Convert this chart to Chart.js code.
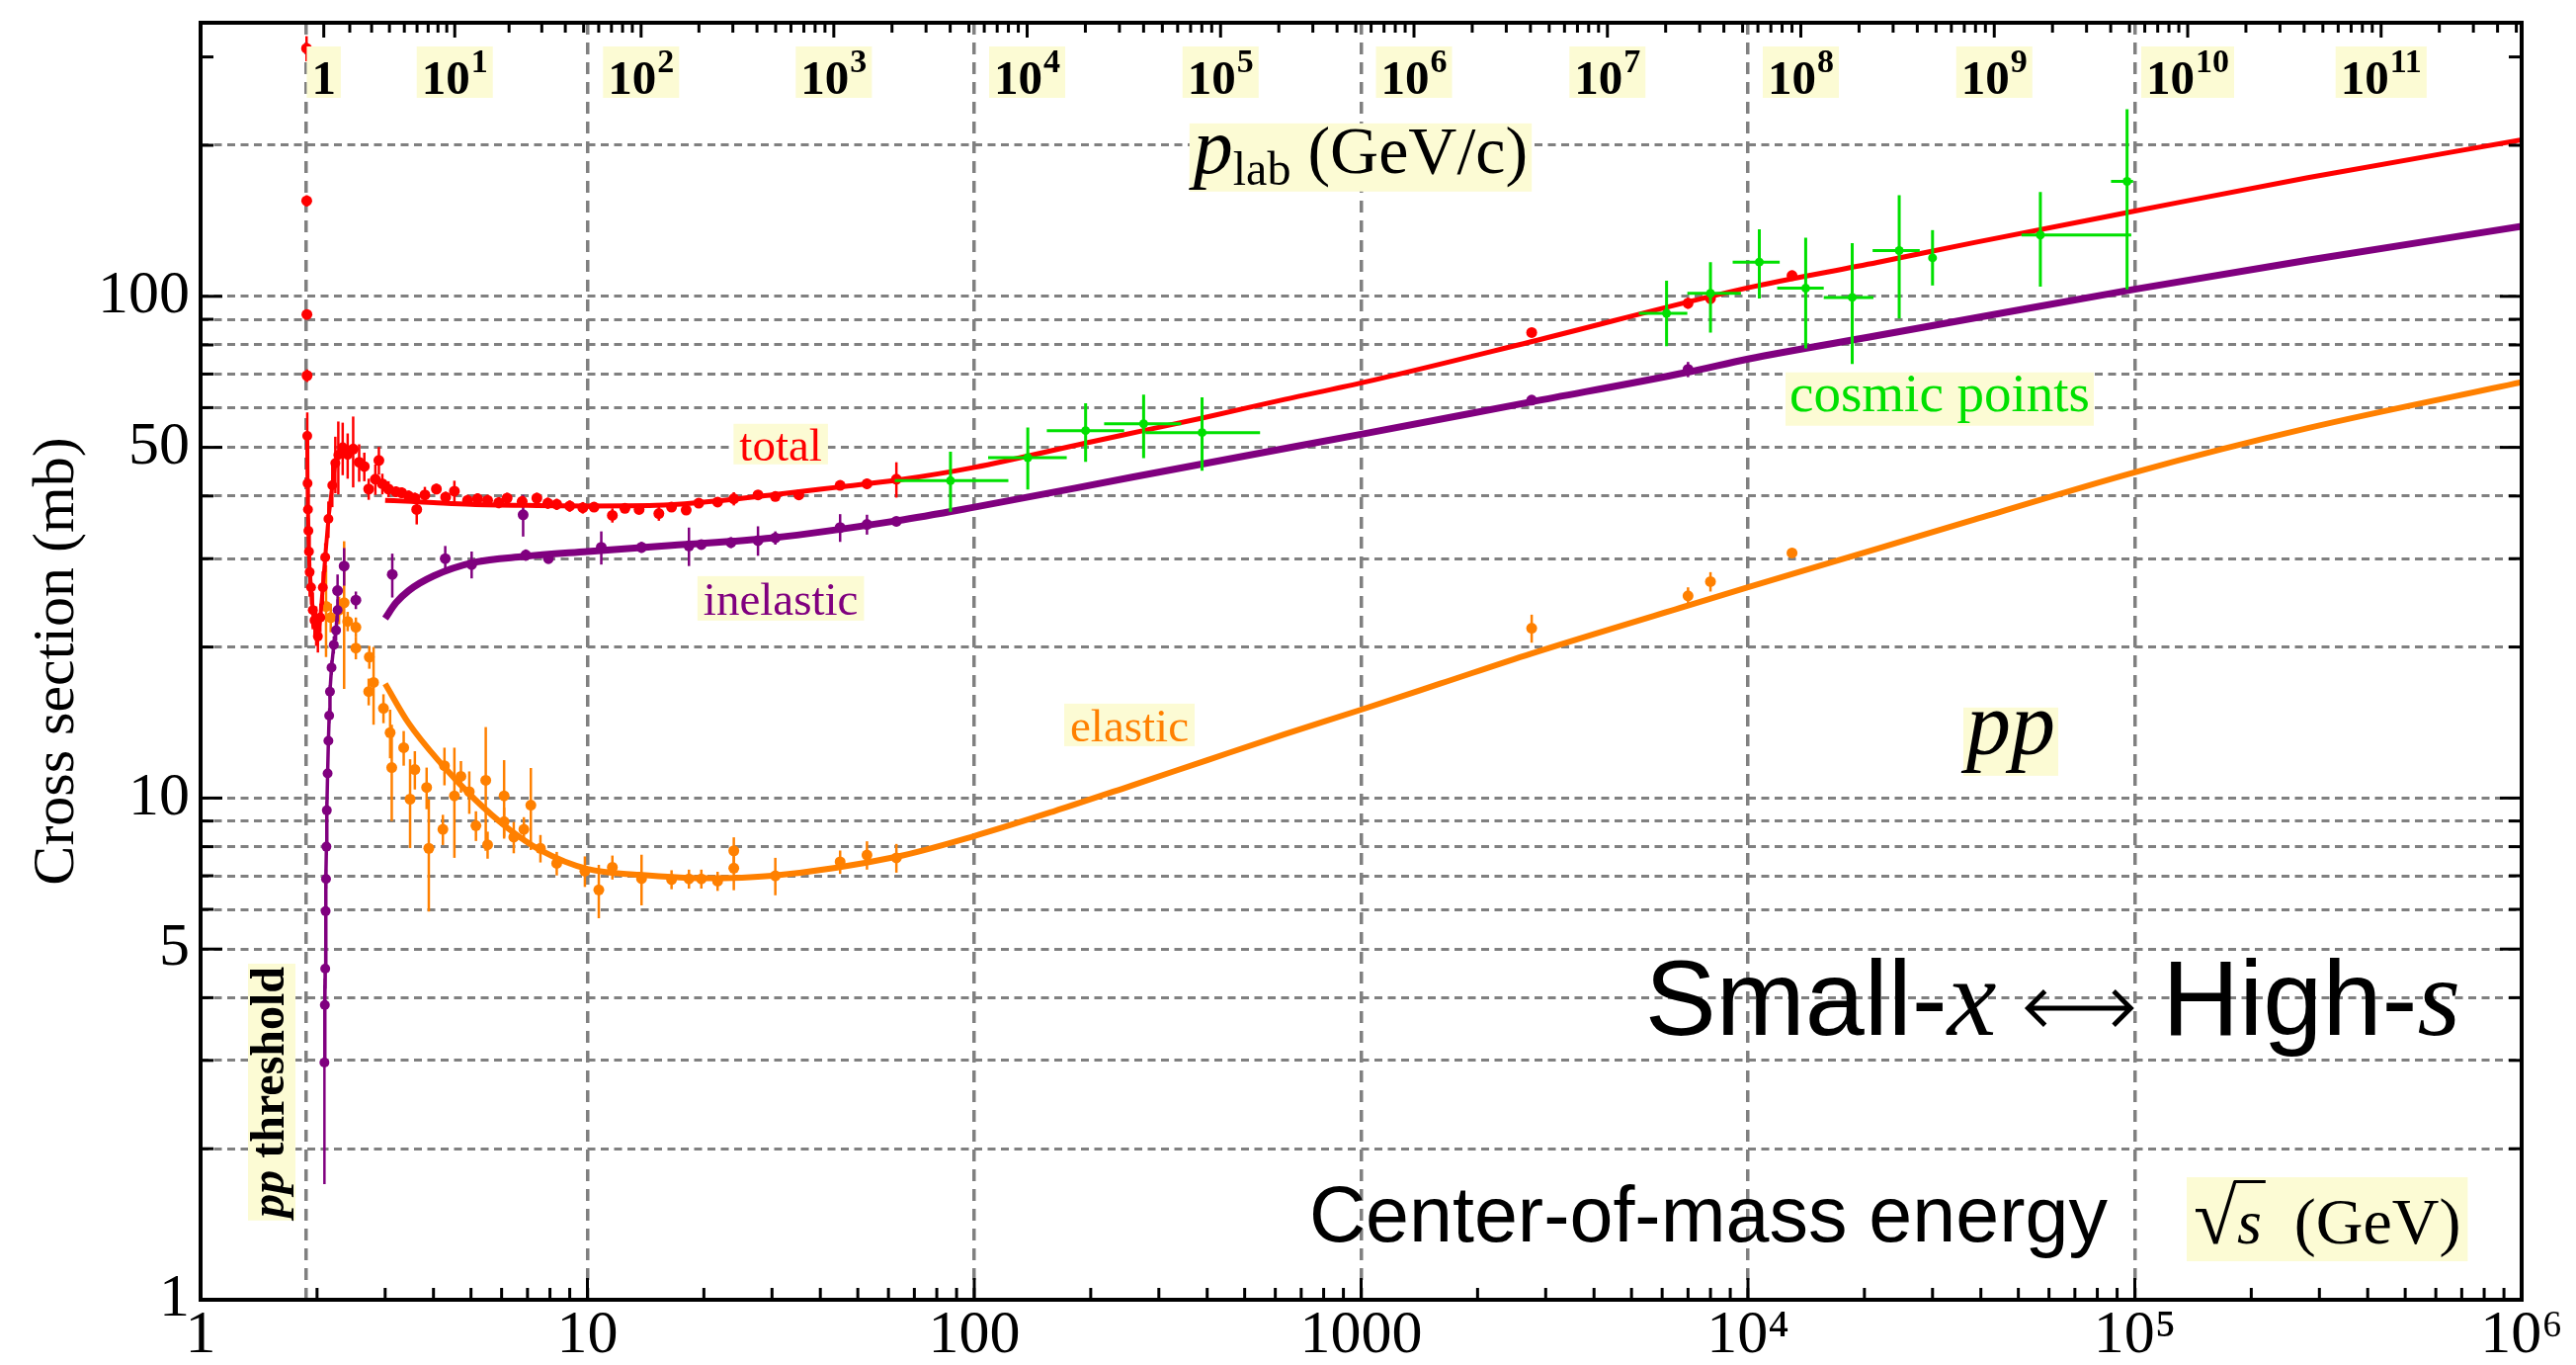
<!DOCTYPE html>
<html>
<head>
<meta charset="utf-8">
<title>pp cross sections</title>
<script src="https://cdn.jsdelivr.net/npm/chart.js@4.4.1/dist/chart.umd.min.js"></script>
<style>
  html, body { margin: 0; padding: 0; background: #fff; }
  #wrap { width: 2607px; height: 1381px; }
</style>
</head>
<body>
<div id="wrap"><canvas id="xsec" width="2607" height="1381"></canvas></div>
<script>
// ── Data: sqrt(s) in GeV, cross sections in mb ─────────────────

// fitted curves
const totFitX  = [3.0, 3.5, 4.0, 5.0, 7.0, 10, 15, 20, 30, 45, 63, 100, 194, 274, 388, 634, 1000, 2750, 1e4, 21600, 38500, 1e5, 2.8e5, 1e6];
const totFitY  = [39.2, 39.0, 38.8, 38.5, 38.3, 38.2, 38.3, 38.9, 40.2, 41.7, 43.0, 45.6, 51.0, 54.0, 57.2, 62.3, 67.2, 81.2, 104.0, 116.8, 128.0, 147.9, 172.4, 205];
const inelFitX = [3.0, 3.2, 3.45, 4.0, 5.1, 6.85, 10, 16.5, 30, 63, 100, 256, 564, 1000, 2750, 7000, 1e4, 21600, 38500, 1e5, 2.8e5, 1e6];
const inelFitY = [22.8, 24.5, 25.9, 27.7, 29.5, 30.3, 31.0, 31.9, 33.0, 35.7, 38.0, 43.6, 48.9, 53.1, 61.6, 70.6, 75.0, 83.5, 90.5, 103.3, 118.0, 137.9];
const elasFitX = [3.0, 3.45, 4.19, 5.11, 6.2, 7.56, 10, 13.6, 20, 30, 63, 100, 160, 256, 400, 634, 1000, 1600, 2750, 7000, 1e4, 21600, 38500, 1e5, 2.8e5, 1e6];
const elasFitY = [16.9, 14.1, 11.7, 9.95, 8.73, 7.87, 7.22, 7.03, 6.92, 7.0, 7.64, 8.4, 9.4, 10.6, 11.9, 13.4, 15.0, 16.9, 19.4, 24.2, 26.3, 31.4, 35.9, 44.6, 54.6, 67.4];

// total: spike right at threshold
const totThrX   = [1.879, 1.881, 1.883, 1.885];
const totThrY   = [312, 155, 92, 69.5];
const totThrErr = [18, 4, 2, 2];

// total: dip and resonance peak (joined)
const totLowX   = [1.887, 1.890, 1.895, 1.900, 1.906, 1.914, 1.930, 1.950, 1.970, 1.990, 2.010, 2.040, 2.070, 2.100, 2.140, 2.190, 2.230, 2.270, 2.330, 2.400];
const totLowY   = [52.7, 42.4, 37.6, 34.1, 31.0, 28.2, 26.3, 23.7, 22.6, 22.1, 21.0, 22.9, 26.3, 30.2, 36.0, 42.0, 46.5, 48.3, 50.0, 48.3];
const totLowErr = [6, 3, 2, 2, 2, 3, 2, 2, 1.5, 2, 1.5, 1.5, 2, 2, 3, 4, 6, 8, 6, 5];

// total: measurements
const totX   = [2.48, 2.57, 2.65, 2.72, 2.83, 2.89, 2.95, 3.06, 3.20, 3.31, 3.45, 3.58, 3.62, 3.80, 4.07, 4.30, 4.53, 4.90, 5.20, 5.52, 5.90, 6.20, 6.78, 7.40, 7.90, 8.33, 9.00, 9.73, 10.4, 11.6, 12.5, 13.6, 15.3, 16.5, 18.0, 19.4, 21.7, 23.9, 27.6, 30.6, 35.2, 45.0, 52.8, 62.9, 2760, 7000, 8000, 13000];
const totY   = [49.6, 46.7, 45.8, 41.3, 43.2, 47.1, 42.3, 41.3, 40.8, 40.6, 40.0, 39.6, 37.6, 40.2, 41.3, 39.8, 40.9, 39.2, 39.5, 39.2, 38.8, 39.6, 39.0, 39.6, 38.7, 38.5, 38.2, 37.9, 38.0, 36.6, 37.8, 37.6, 36.9, 38.0, 37.5, 38.7, 38.9, 39.5, 40.2, 39.9, 40.2, 42.0, 42.3, 43.2, 84.7, 96.9, 99.0, 110.0];
const totErr = [8, 4, 3, 2, 3, 3, 2, 1.5, 1, 1, 1, 1, 2.5, 1.5, 1, 1, 2, 1, 1, 1, 1, 1, 1, 1, 1, 1, 1, 1, 0.8, 1.2, 0.8, 0.8, 1.2, 0.6, 0.6, 0.6, 0.6, 1.2, 0.5, 0.5, 0.6, 0.8, 1.0, 3.5, 1.5, 2.5, 2.5, 2.5];

// inelastic: rise from threshold (joined)
const inelThrX   = [2.090, 2.095, 2.100, 2.105, 2.110, 2.115, 2.120, 2.130, 2.140, 2.150, 2.160, 2.180, 2.210, 2.240, 2.260];
const inelThrY   = [2.97, 3.87, 4.57, 5.95, 6.9, 8.0, 9.45, 11.2, 13.0, 14.6, 16.3, 18.2, 20.2, 21.6, 23.7];
const inelThrErr = [1.27, 0.5, 0.4, 0.3, 0.3, 0.3, 0.4, 0.4, 0.4, 0.5, 0.5, 0.6, 0.8, 1.0, 1.2];

// inelastic: measurements
const inelX   = [2.26, 2.35, 2.52, 3.13, 4.29, 5.02, 6.82, 6.93, 7.93, 10.86, 13.8, 18.3, 19.7, 23.5, 27.6, 30.6, 45.0, 52.8, 62.9, 2760, 7000];
const inelY   = [25.9, 29.0, 24.8, 27.9, 30.0, 29.2, 36.7, 30.5, 30.0, 31.6, 31.6, 31.8, 32.0, 32.3, 32.6, 33.0, 34.6, 35.1, 35.6, 62.1, 71.5];
const inelErr = [2.0, 2.5, 1.0, 2.8, 1.8, 1.8, 3.5, 0.8, 0.6, 2.4, 0.8, 2.8, 0.6, 0.8, 2.2, 1.0, 2.2, 1.6, 0.6, 0.8, 2.5];

// elastic: measurements
const elasX   = [2.11, 2.17, 2.28, 2.35, 2.40, 2.52, 2.52, 2.72, 2.73, 2.80, 2.97, 3.09, 3.12, 3.35, 3.48, 3.58, 3.84, 3.89, 4.23, 4.27, 4.53, 4.71, 4.95, 5.15, 5.46, 5.52, 6.09, 6.09, 6.45, 6.85, 7.14, 7.56, 8.33, 9.85, 10.7, 11.6, 13.8, 16.5, 18.3, 19.7, 21.7, 23.9, 23.9, 30.6, 45.0, 52.8, 62.9, 2760, 7000, 8000, 13000];
const elasY   = [24.1, 22.9, 23.7, 24.5, 22.5, 21.9, 19.9, 16.3, 19.1, 17.0, 15.1, 13.5, 11.5, 12.6, 9.95, 11.4, 10.5, 7.94, 8.66, 11.6, 10.1, 11.05, 10.3, 8.81, 10.85, 8.07, 10.1, 8.97, 8.36, 8.66, 9.68, 7.94, 7.41, 7.15, 6.56, 7.28, 6.91, 6.88, 6.90, 6.90, 6.83, 7.85, 7.25, 7.0, 7.46, 7.7, 7.6, 21.8, 25.3, 27.0, 30.8];
const elasErr = [5, 1.5, 1.5, 8, 1, 1, 1, 1, 1, 3, 1, 1.5, 2.5, 1, 2, 1, 1, 2, 0.6, 1, 2.5, 0.8, 1, 0.6, 3, 0.5, 1.8, 0.6, 0.6, 0.5, 1.8, 0.5, 0.4, 0.5, 0.8, 0.4, 0.8, 0.3, 0.3, 0.3, 0.3, 0.5, 0.7, 0.6, 0.4, 0.5, 0.5, 1.4, 1.0, 1.2, 0.5];

// cosmic-ray points (total), with energy bins
const cosmicX   = [86.8, 137.5, 194, 274, 388, 6160, 8000, 10700, 14100, 18600, 24600, 30000, 57000, 95500];
const cosmicY   = [42.9, 47.7, 54.0, 55.7, 53.5, 92.5, 101.4, 117, 103.8, 99.5, 123.4, 119.3, 132.5, 169.5];
const cosmicYLo = [37.2, 41.2, 46.8, 47.6, 44.9, 79.5, 84.7, 99, 78.7, 73.3, 90.3, 105.1, 104.5, 103.3];
const cosmicYHi = [49.0, 54.8, 61.2, 63.7, 62.9, 107.4, 117, 136, 130.8, 127.6, 159, 135.5, 161.5, 236];
const cosmicXLo = [62.3, 108.6, 154, 216.6, 277, 5224, 6970, 9130, 11900, 15700, 21000, 30000, 50950, 86800];
const cosmicXHi = [122.5, 173.4, 244, 342.8, 548, 6970, 9590, 12080, 15700, 21100, 27800, 30000, 97900, 99000];

// axes
const xGridValues = [1, 1.877, 10, 100, 1000, 1e4, 1e5, 1e6];
const xTickText   = { 1: '1', 10: '10', 100: '100', 1000: '1000', 10000: '10⁴', 100000: '10⁵', 1000000: '10⁶' };
const yGridValues = [1, 2, 3, 4, 5, 6, 7, 8, 9, 10, 20, 30, 40, 50, 60, 70, 80, 90, 100, 200, 300];
const yTickText   = { 1: '1', 5: '5', 10: '10', 50: '50', 100: '100' };
const plabExp     = [0, 1, 2, 3, 4, 5, 6, 7, 8, 9, 10, 11];

// ── Style ─────────────────────────────────────────────────────
const SERIF  = '"Liberation Serif", "Times New Roman", serif';
const SANS   = '"Liberation Sans", Arial, Helvetica, sans-serif';
const RED    = '#ff0000';
const PURPLE = '#80007f';
const ORANGE = '#ff8000';
const GREEN  = '#00e000';
const PALE   = '#fcfbd4';
const GRID   = '#808080';

// fixed-target kinematics: beam momentum (GeV/c) -> sqrt(s) (GeV)
const M_P = 0.938272;
const sqrtS = p => Math.sqrt(2 * M_P * M_P + 2 * M_P * Math.sqrt(p * p + M_P * M_P));

const pts = (xs, ys) => xs.map((x, i) => ({ x, y: ys[i] }));

function fitSet(xs, ys, color, width) {
  return { data: pts(xs, ys), showLine: true, borderColor: color, borderWidth: width,
           pointRadius: 0, cubicInterpolationMode: 'monotone' };
}
function dotSet(xs, ys, err, color, r, line) {
  return { data: pts(xs, ys), errY: err, showLine: !!line, borderColor: color, borderWidth: line || 0,
           backgroundColor: color, pointRadius: r, pointBorderWidth: 0 };
}

// ── Error bars, drawn just under each dataset ─────────────────
const errorBars = {
  id: 'errorBars',
  beforeDatasetDraw(chart, args) {
    const ds = chart.data.datasets[args.index];
    if (!ds.errY && !ds.yLo) return;
    const { ctx, chartArea: a, scales: { x, y } } = chart;
    ctx.save();
    ctx.beginPath();
    ctx.rect(a.left, a.top, a.width, a.height);
    ctx.clip();
    ctx.strokeStyle = ds.backgroundColor;
    ctx.lineWidth = ds.errWidth || 2.5;
    ds.data.forEach((p, i) => {
      const px = x.getPixelForValue(p.x);
      const py = y.getPixelForValue(p.y);
      const lo = ds.yLo ? ds.yLo[i] : p.y - ds.errY[i];
      const hi = ds.yHi ? ds.yHi[i] : p.y + ds.errY[i];
      ctx.beginPath();
      ctx.moveTo(px, y.getPixelForValue(Math.max(lo, 1.01)));
      ctx.lineTo(px, y.getPixelForValue(hi));
      if (ds.xLo && ds.xLo[i] !== ds.xHi[i]) {
        ctx.moveTo(x.getPixelForValue(ds.xLo[i]), py);
        ctx.lineTo(x.getPixelForValue(ds.xHi[i]), py);
      }
      ctx.stroke();
    });
    ctx.restore();
  }
};

// ── Inner tick marks, p_lab axis and frame ────────────────────
const axisDecor = {
  id: 'axisDecor',
  afterDraw(chart) {
    const { ctx, chartArea: a, scales: { x, y } } = chart;
    const seg = (x1, y1, x2, y2) => { ctx.beginPath(); ctx.moveTo(x1, y1); ctx.lineTo(x2, y2); ctx.stroke(); };
    ctx.save();
    ctx.strokeStyle = '#000';
    ctx.lineWidth = 3;

    // left and right ticks
    yGridValues.forEach(v => {
      if (v <= 1) return;
      const py = y.getPixelForValue(v);
      const len = yTickText[v] ? 22 : 13;
      seg(a.left, py, a.left + len, py);
      seg(a.right, py, a.right - len, py);
    });

    // bottom ticks
    for (let n = 0; n < 6; n++) {
      for (let k = 1; k <= 9; k++) {
        const v = k * 10 ** n;
        if (v <= 1) continue;
        const px = x.getPixelForValue(v);
        seg(px, a.bottom, px, a.bottom - (k === 1 ? 22 : 12));
      }
    }

    // top ticks in beam momentum
    plabExp.forEach(n => {
      for (let k = 1; k <= 9; k++) {
        const s = sqrtS(k * 10 ** n);
        if (s >= 1e6) break;
        const px = x.getPixelForValue(s);
        seg(px, a.top, px, a.top + (k === 1 ? 15 : 10));
      }
    });

    // top tick labels: 1, 10^1 ... 10^11
    ctx.textBaseline = 'alphabetic';
    ctx.textAlign = 'left';
    plabExp.forEach(n => {
      const px = x.getPixelForValue(sqrtS(10 ** n));
      const main = n === 0 ? '1' : '10';
      const sup = n === 0 ? '' : String(n);
      ctx.font = `bold 49px ${SERIF}`;
      const w1 = ctx.measureText(main).width;
      ctx.font = `bold 34px ${SERIF}`;
      const w2 = sup ? ctx.measureText(sup).width + 1 : 0;
      const left = px - (w1 + w2) / 2;
      ctx.fillStyle = PALE;
      ctx.fillRect(left - 5, a.top + 24, w1 + w2 + 10, 52);
      ctx.fillStyle = '#000';
      ctx.font = `bold 49px ${SERIF}`;
      ctx.fillText(main, left, a.top + 72);
      if (sup) {
        ctx.font = `bold 34px ${SERIF}`;
        ctx.fillText(sup, left + w1 + 1, a.top + 50);
      }
    });

    // frame
    ctx.lineWidth = 4;
    ctx.strokeRect(a.left, a.top, a.width, a.height);
    ctx.restore();
  }
};

// ── Text labels inside the plot ───────────────────────────────
// parts: [text, font, dy, mark]; mark 'arrow' draws a double arrow, 'bar' an overbar
const notes = [
  { at: [31.6, 47.1],   align: 'center', color: RED,    box: [6, 4], parts: [['total', `47px ${SERIF}`]] },
  { at: [31.6, 23.2],   align: 'center', color: PURPLE, box: [6, 6], parts: [['inelastic', `47px ${SERIF}`]] },
  { at: [251.8, 12.98], align: 'center', color: ORANGE, box: [6, 5], parts: [['elastic', `47px ${SERIF}`]] },
  { at: [31300, 59.1],  align: 'center', color: GREEN,  box: [4, 3], parts: [['cosmic points', `55px ${SERIF}`]] },
  { at: [997, 176.3],   align: 'center', color: '#000', box: [4, 2],
    parts: [['p', `italic 80px ${SERIF}`], ['lab', `48px ${SERIF}`, 12], [' (GeV/c)', `68px ${SERIF}`]] },
  { at: [47800, 12.24], align: 'center', color: '#000', box: [3, 3], parts: [['pp', `italic 90px ${SERIF}`]] },
  { at: [694600, 3.373], align: 'right', color: '#000',
    parts: [['Small-', `108px ${SANS}`], ['x', `italic 112px ${SERIF}`], [' ', `108px ${SANS}`],
            ['\u2003', `108px ${SANS}`, 0, 'arrow'], [' ', `108px ${SANS}`],
            ['High-', `108px ${SANS}`], ['s', `italic 112px ${SERIF}`]] },
  { at: [734.5, 1.307], align: 'left', color: '#000', parts: [['Center-of-mass energy', `79px ${SANS}`]] },
  { at: [141900, 1.295], align: 'left', color: '#000', box: [7, 3],
    parts: [['√', `80px ${SERIF}`], ['s', `italic 64px ${SERIF}`, 0, 'bar'], ['  (GeV)', `66px ${SERIF}`]] },
  { at: [1.639, 2.594], align: 'center', color: '#000', box: [3, 2], rotate: true,
    parts: [['pp', `bold italic 48px ${SERIF}`], [' threshold', `bold 48px ${SERIF}`]] }
];

const textNotes = {
  id: 'textNotes',
  afterDatasetsDraw(chart) {
    const { ctx, scales: { x, y } } = chart;
    ctx.save();
    ctx.textBaseline = 'alphabetic';
    ctx.textAlign = 'left';
    notes.forEach(nt => {
      const px = x.getPixelForValue(nt.at[0]);
      const py = y.getPixelForValue(nt.at[1]);
      let width = 0, asc = 0, desc = 0;
      nt.parts.forEach(([t, font, dy = 0]) => {
        ctx.font = font;
        const m = ctx.measureText(t);
        width += m.width;
        asc = Math.max(asc, m.actualBoundingBoxAscent - dy);
        desc = Math.max(desc, m.actualBoundingBoxDescent + dy);
      });
      ctx.save();
      ctx.translate(px, py);
      if (nt.rotate) ctx.rotate(-Math.PI / 2);
      let x0 = nt.align === 'center' ? -width / 2 : nt.align === 'right' ? -width : 0;
      if (nt.box) {
        const [bx, by] = nt.box;
        ctx.fillStyle = PALE;
        ctx.fillRect(x0 - bx, -asc - by, width + 2 * bx, asc + desc + 2 * by);
      }
      ctx.fillStyle = nt.color;
      ctx.strokeStyle = nt.color;
      let radTop = 0;
      nt.parts.forEach(([t, font, dy = 0, mark]) => {
        ctx.font = font;
        const m = ctx.measureText(t);
        if (mark === 'arrow') {
          const size = parseFloat(font);
          const cy = dy - size * 0.25;
          const x1 = x0 + 2, x2 = x0 + m.width - 2, head = size * 0.16;
          ctx.lineWidth = size * 0.045;
          ctx.beginPath();
          ctx.moveTo(x1, cy); ctx.lineTo(x2, cy);
          ctx.moveTo(x1 + head, cy - head); ctx.lineTo(x1, cy); ctx.lineTo(x1 + head, cy + head);
          ctx.moveTo(x2 - head, cy - head); ctx.lineTo(x2, cy); ctx.lineTo(x2 - head, cy + head);
          ctx.stroke();
        } else {
          ctx.fillText(t, x0, dy);
          if (t === '√') radTop = -m.actualBoundingBoxAscent;
          if (mark === 'bar') {
            ctx.lineWidth = 3;
            ctx.beginPath();
            ctx.moveTo(x0 - 3, radTop + 1.5);
            ctx.lineTo(x0 + m.width + 4, radTop + 1.5);
            ctx.stroke();
          }
        }
        x0 += m.width;
      });
      ctx.restore();
    });
    ctx.restore();
  }
};

// ── Datasets (first in list is drawn on top) ──────────────────
const cosmicSet = dotSet(cosmicX, cosmicY, null, GREEN, 4.5);
Object.assign(cosmicSet, { yLo: cosmicYLo, yHi: cosmicYHi, xLo: cosmicXLo, xHi: cosmicXHi, errWidth: 3 });

const datasets = [
  cosmicSet,
  dotSet(totThrX, totThrY, totThrErr, RED, 5.5),
  dotSet(totLowX, totLowY, totLowErr, RED, 5, 4),
  dotSet(totX, totY, totErr, RED, 5.5),
  fitSet(totFitX, totFitY, RED, 5),
  dotSet(inelThrX, inelThrY, inelThrErr, PURPLE, 5, 3.5),
  dotSet(inelX, inelY, inelErr, PURPLE, 5.5),
  fitSet(inelFitX, inelFitY, PURPLE, 7),
  dotSet(elasX, elasY, elasErr, ORANGE, 5.5),
  fitSet(elasFitX, elasFitY, ORANGE, 6)
];

new Chart(document.getElementById('xsec'), {
  type: 'scatter',
  data: { datasets },
  options: {
    responsive: false,
    animation: false,
    events: [],
    layout: { padding: { top: 23, right: 55, left: 0, bottom: 0 } },
    plugins: { legend: { display: false }, tooltip: { enabled: false } },
    scales: {
      x: {
        type: 'logarithmic',
        min: 1,
        max: 1e6,
        afterBuildTicks: s => { s.ticks = xGridValues.map(v => ({ value: v })); },
        afterFit: s => { s.height = 66; s.paddingLeft = 0; s.paddingRight = 0; },
        grid: {
          drawTicks: false,
          lineWidth: 3.5,
          color: c => (c.tick && (c.tick.value <= 1 || c.tick.value >= 1e6)) ? 'rgba(0,0,0,0)' : GRID
        },
        border: { display: false, dash: [12, 8] },
        ticks: {
          autoSkip: false,
          maxRotation: 0,
          padding: 0,
          color: '#000',
          font: { size: 62, family: SERIF },
          callback: v => xTickText[v] || ''
        }
      },
      y: {
        type: 'logarithmic',
        min: 1,
        max: 351,
        afterBuildTicks: s => { s.ticks = yGridValues.map(v => ({ value: v })); },
        afterFit: s => { s.width = 203; s.paddingTop = 0; s.paddingBottom = 0; },
        grid: {
          drawTicks: false,
          lineWidth: 3,
          color: c => (c.tick && (c.tick.value <= 1 || c.tick.value >= 300)) ? 'rgba(0,0,0,0)' : GRID
        },
        border: { display: false, dash: [8, 5.5] },
        ticks: {
          autoSkip: false,
          padding: 11,
          color: '#000',
          font: { size: 62, family: SERIF },
          callback: v => yTickText[v] || ''
        },
        title: {
          display: true,
          text: 'Cross section (mb)',
          color: '#000',
          font: { size: 60, family: SERIF },
          padding: { top: 22, bottom: 0 }
        }
      }
    }
  },
  plugins: [errorBars, textNotes, axisDecor]
});
</script>
</body>
</html>
